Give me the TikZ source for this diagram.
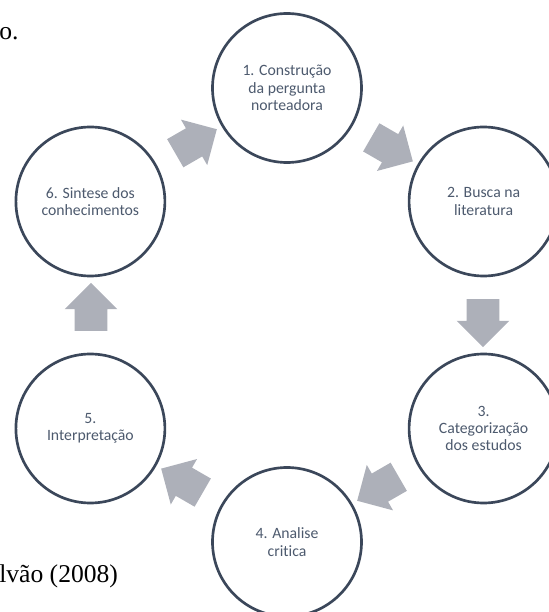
\documentclass[tikz,border=0pt]{standalone}
\usepackage{fontspec}
\setmainfont{Carlito}[Ligatures=NoCommon]
\newfontfamily\serifpage{Liberation Serif}
\usetikzlibrary{shapes.arrows}
\definecolor{ring}{HTML}{3B475A}
\definecolor{ringtext}{HTML}{4D5A6E}
\definecolor{flowgray}{HTML}{ADB0B9}
\tikzset{
    stage/.style = {circle,
                    fill=white,
                    draw=ring,
                    text=ringtext,
                    line width=2pt,
                    minimum size=111.75pt,
                    inner sep=0pt,
                    align=center,
                    font=\fontsize{11.8}{12.9}\selectfont},
    flow/.style =  {single arrow,
                    fill=flowgray,
                    draw=none,
                    inner xsep=0pt,
                    inner ysep=12pt,
                    minimum height=36pt,
                    single arrow head extend=7.5pt},
    page/.style =  {inner sep=0pt,
                    text=black,
                    font=\serifpage\fontsize{19.2}{20}\selectfont}
}

\begin{document}
\begin{tikzpicture}[x=0.75pt,y=0.75pt]
                \useasboundingbox (0,0) rectangle (549,612);

                \node[page,anchor=base west]  (tail)   at (-1,572)        {o.};
                \node[page,anchor=base west]  (source) at (-1,30)         {lvão (2008)};

                \node[stage]  (S1) at (287,524)      {1. Construção\\da pergunta\\norteadora};
                \node[stage]  (S2) at (483.6,410.5)  {2. Busca na\\literatura};
                \node[stage]  (S3) at (483.6,183.5)  {3.\\Categorização\\dos estudos};
                \node[stage]  (S4) at (287,70)       {4. Analise\\critica};
                \node[stage]  (S5) at (90.4,183.5)   {5.\\Interpretação};
                \node[stage]  (S6) at (90.4,410.5)   {6. Sintese dos\\conhecimentos};

                \node[flow,rotate=-30]  (F12) at (385,466.7) {};
                \node[flow,rotate=-90]  (F23) at (483,297)   {};
                \node[flow,rotate=-150] (F34) at (385,127.3) {};
                \node[flow,rotate=150]  (F45) at (189,127.3) {};
                \node[flow,rotate=90]   (F56) at (91,297)    {};
                \node[flow,rotate=30]   (F61) at (189,466.7) {};
        \end{tikzpicture}
\end{document}
